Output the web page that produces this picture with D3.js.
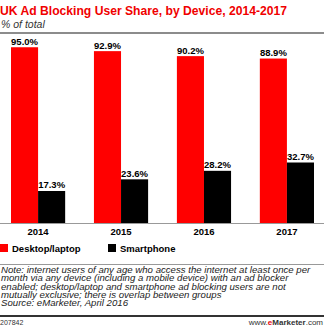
<!DOCTYPE html>
<html>
<head>
<meta charset="utf-8">
<script src="https://cdnjs.cloudflare.com/ajax/libs/d3/7.8.5/d3.min.js"></script>
<style>
  body { margin: 0; background: #fff; }
  svg { display: block; font-family: "Liberation Sans", Arial, sans-serif; }
</style>
</head>
<body>
<div id="chart"></div>
<script>
// data
const years = ["2014", "2015", "2016", "2017"];
const seriesNames = ["Desktop/laptop", "Smartphone"];
const desktop = [95.0, 92.9, 90.2, 88.9];
const smartphone = [17.3, 23.6, 28.2, 32.7];
const seriesColors = ["#ff0000", "#000000"];
const noteLines = [
    "Note: internet users of any age who access the internet at least once per",
    "month via any device (including a mobile device) with an ad blocker",
    "enabled; desktop/laptop and smartphone ad blocking users are not",
    "mutually exclusive; there is overlap between groups",
    "Source: eMarketer, April 2016"
];

const width = 324, height = 328;
const svg = d3.select("#chart").append("svg")
    .attr("width", width)
    .attr("height", height);

// title block
svg.append("text")
    .attr("x", 0).attr("y", 15)
    .attr("font-size", 13).attr("font-weight", "bold")
    .attr("fill", "#f00000")
    .attr("textLength", 287).attr("lengthAdjust", "spacingAndGlyphs")
    .text("UK Ad Blocking User Share, by Device, 2014-2017");

svg.append("text")
    .attr("x", 1).attr("y", 28)
    .attr("font-size", 10.5).attr("font-style", "italic")
    .attr("fill", "#333")
    .text("% of total");

svg.append("line")
    .attr("x1", 0).attr("x2", width)
    .attr("y1", 33).attr("y2", 33)
    .attr("stroke", "#666").attr("stroke-width", 1.5);

// scales
const baseY = 223;
const x0 = d3.scaleBand().domain(years).range([11, 314]).paddingInner(0.347).paddingOuter(0);
const x1 = d3.scaleBand().domain(seriesNames).range([0, x0.bandwidth()]);
const y = d3.scaleLinear().domain([0, 100]).range([baseY, baseY - 185]);

const rows = years.map((yr, i) => ({
    year: yr,
    values: [
        { key: seriesNames[0], value: desktop[i], color: seriesColors[0] },
        { key: seriesNames[1], value: smartphone[i], color: seriesColors[1] }
    ]
}));

const groups = svg.append("g").selectAll("g")
    .data(rows)
    .join("g")
    .attr("transform", d => `translate(${x0(d.year)},0)`);

groups.selectAll("rect")
    .data(d => d.values)
    .join("rect")
    .attr("x", d => x1(d.key))
    .attr("y", d => y(d.value))
    .attr("width", x1.bandwidth())
    .attr("height", d => baseY - y(d.value))
    .attr("fill", d => d.color);

groups.selectAll("text.val")
    .data(d => d.values)
    .join("text")
    .attr("class", "val")
    .attr("x", d => x1(d.key) + x1.bandwidth() / 2)
    .attr("y", d => y(d.value) - 2.5)
    .attr("text-anchor", "middle")
    .attr("font-size", 9.5).attr("font-weight", "bold")
    .attr("fill", "#000")
    .text(d => d.value.toFixed(1) + "%");

// axis
svg.append("line")
    .attr("x1", 0).attr("x2", width)
    .attr("y1", baseY + 0.5).attr("y2", baseY + 0.5)
    .attr("stroke", "#999").attr("stroke-width", 1);

const xAxis = svg.append("g")
    .attr("transform", `translate(0,${baseY})`)
    .call(d3.axisBottom(x0).tickSize(0).tickPadding(0));
xAxis.select(".domain").remove();
xAxis.selectAll("text")
    .attr("y", 12)
    .attr("dy", 0)
    .attr("font-size", 9.5).attr("font-weight", "bold")
    .attr("font-family", "Liberation Sans, Arial, sans-serif")
    .attr("fill", "#000");

// legend
const legendX = [0, 108];
const legend = svg.append("g").selectAll("g")
    .data(seriesNames)
    .join("g")
    .attr("transform", (d, i) => `translate(${legendX[i]},244)`);
legend.append("rect")
    .attr("width", 8).attr("height", 8)
    .attr("fill", (d, i) => seriesColors[i]);
legend.append("text")
    .attr("x", 12).attr("y", 8)
    .attr("font-size", 9.5).attr("font-weight", "bold")
    .attr("fill", "#000")
    .text(d => d);

svg.append("line")
    .attr("x1", 0).attr("x2", width)
    .attr("y1", 264.5).attr("y2", 264.5)
    .attr("stroke", "#999").attr("stroke-width", 1);

// note - the source font is wider than Liberation, so stretch it a little
svg.append("g")
    .attr("transform", "translate(1,0) scale(1.12,1)")
    .selectAll("text")
    .data(noteLines)
    .join("text")
    .attr("x", 0)
    .attr("y", (d, i) => 273 + i * 8.3)
    .attr("font-size", 8.6).attr("font-style", "italic")
    .attr("fill", "#222")
    .text(d => d);

// footer
svg.append("line")
    .attr("x1", 0).attr("x2", width)
    .attr("y1", 316).attr("y2", 316)
    .attr("stroke", "#333").attr("stroke-width", 2);

svg.append("text")
    .attr("x", 0).attr("y", 325)
    .attr("font-size", 7).attr("fill", "#333")
    .text("207842");

const brand = svg.append("text")
    .attr("x", 323).attr("y", 325)
    .attr("text-anchor", "end")
    .attr("font-size", 8).attr("fill", "#333");
brand.append("tspan").text("www.");
brand.append("tspan").attr("fill", "#e8000b").attr("font-weight", "bold").text("e");
brand.append("tspan").attr("font-weight", "bold").text("Marketer");
brand.append("tspan").text(".com");
</script>
</body>
</html>
